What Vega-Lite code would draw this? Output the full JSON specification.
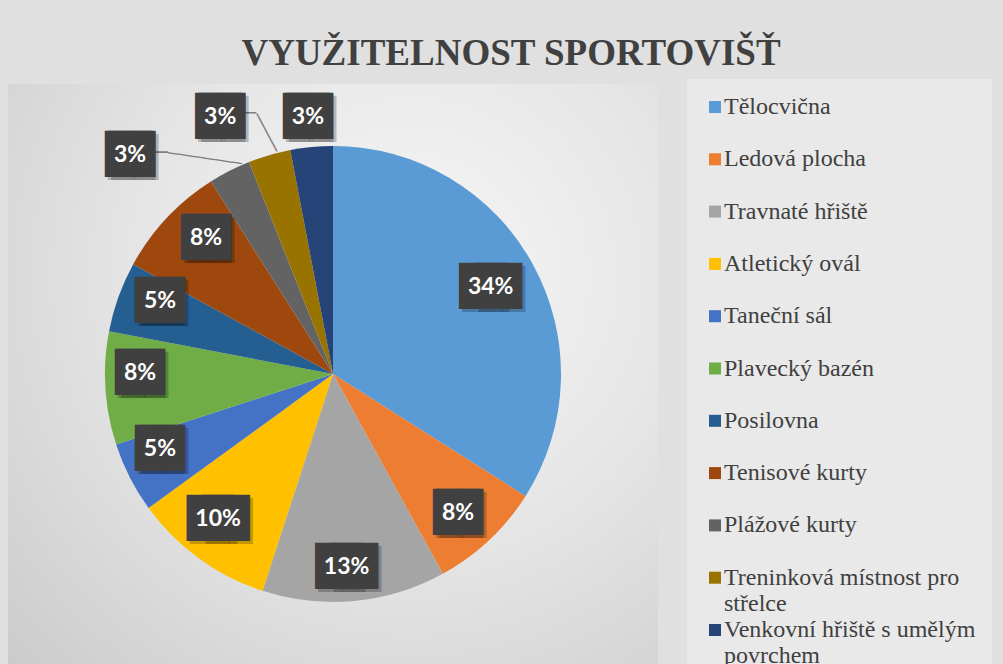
{
  "$schema": "https://vega.github.io/schema/vega-lite/v6.json",
  "autosize": {"type": "none"},
  "width": 650,
  "height": 580,
  "padding": {"left": 8, "top": 84, "right": 345, "bottom": 0},
  "background": "#e0e0e0",
  "config": {
    "view": {"stroke": null},
    "font": "Liberation Serif",
    "legend": {"labelFont": "Liberation Serif"}
  },
  "title": {
    "text": "VYUŽITELNOST SPORTOVIŠŤ",
    "font": "Liberation Serif",
    "fontSize": 37,
    "fontWeight": "bold",
    "color": "#404040",
    "anchor": "middle",
    "dx": 178,
    "offset": 6
  },
  "data": {
    "values": [
      {"kategorie": "Tělocvična", "podil": 0.34, "poradi": 1},
      {"kategorie": "Ledová plocha", "podil": 0.08, "poradi": 2},
      {"kategorie": "Travnaté hřiště", "podil": 0.13, "poradi": 3},
      {"kategorie": "Atletický ovál", "podil": 0.10, "poradi": 4},
      {"kategorie": "Taneční sál", "podil": 0.05, "poradi": 5},
      {"kategorie": "Plavecký bazén", "podil": 0.08, "poradi": 6},
      {"kategorie": "Posilovna", "podil": 0.05, "poradi": 7},
      {"kategorie": "Tenisové kurty", "podil": 0.08, "poradi": 8},
      {"kategorie": "Plážové kurty", "podil": 0.03, "poradi": 9},
      {"kategorie": "Treninková místnost pro střelce", "podil": 0.03, "poradi": 10},
      {"kategorie": "Venkovní hřiště s umělým povrchem", "podil": 0.03, "poradi": 11}
    ]
  },
  "layer": [
    {
      "data": {"values": [{}]},
      "mark": {
        "type": "rect",
        "color": {"gradient": "radial", "x1": 0.62, "y1": 0.35, "x2": 0.62, "y2": 0.35, "r1": 0, "r2": 0.95,
          "stops": [{"offset": 0, "color": "#f7f7f7"}, {"offset": 0.45, "color": "#e5e5e5"}, {"offset": 1, "color": "#c6c6c6"}]}
      },
      "encoding": {}
    },
    {
      "mark": {"type": "arc", "outerRadius": 228, "strokeWidth": 0},
      "encoding": {
        "theta": {"field": "podil", "type": "quantitative", "stack": true},
        "order": {"field": "poradi", "type": "quantitative"},
        "color": {
          "field": "kategorie",
          "type": "nominal",
          "scale": {
            "domain": ["Tělocvična", "Ledová plocha", "Travnaté hřiště", "Atletický ovál", "Taneční sál", "Plavecký bazén", "Posilovna", "Tenisové kurty", "Plážové kurty", "Treninková místnost pro střelce", "Venkovní hřiště s umělým povrchem"],
            "range": ["#5B9BD5", "#ED7D31", "#A5A5A5", "#FFC000", "#4472C4", "#70AD47", "#255E91", "#9E480E", "#636363", "#997300", "#264478"]
          },
          "legend": {
            "title": null,
            "orient": "none",
            "legendX": 679,
            "legendY": -5,
            "padding": 16,
            "fillColor": "#e9e9e9",
            "gridAlign": "all",
            "symbolType": "square",
            "symbolSize": 144,
            "symbolStrokeWidth": 0,
            "labelFont": "Liberation Serif",
            "labelFontSize": 24,
            "labelColor": "#404040",
            "labelOffset": -3,
            "labelLimit": 400,
            "labelBaseline": "middle",
            "rowPadding": 2.3,
            "labelExpr": "datum.label == 'Treninková místnost pro střelce' ? ['Treninková místnost pro', 'střelce'] : datum.label == 'Venkovní hřiště s umělým povrchem' ? ['Venkovní hřiště s umělým', 'povrchem'] : datum.label"
          }
        }
      }
    },
    {
      "mark": {
        "type": "text",
        "font": "DejaVu Sans Mono",
        "color": "#808080",
        "fontSize": {"expr": "datum.poradi == 9 ? 15.6 : 17.8"},
        "angle": {"expr": "datum.poradi == 9 ? 8.4 : 62.2"},
        "radius": {"expr": "datum.poradi == 9 ? 250.8 : 250.1"},
        "thetaOffset": {"expr": "datum.poradi == 9 ? -0.0656 : 0.0115"}
      },
      "encoding": {
        "theta": {"field": "podil", "type": "quantitative", "stack": true},
        "order": {"field": "poradi", "type": "quantitative"},
        "text": {"condition": [{"test": "datum.poradi == 9", "value": "────────"}, {"test": "datum.poradi == 10", "value": "────"}], "value": ""}
      }
    },
    {
      "mark": {
        "type": "text",
        "font": "DejaVu Sans Mono",
        "color": "#808080",
        "fontSize": {"expr": "datum.poradi == 9 ? 20 : 18.3"},
        "radius": {"expr": "datum.poradi == 9 ? 279.7 : 272.8"},
        "thetaOffset": {"expr": "datum.poradi == 9 ? -0.1887 : -0.0244"}
      },
      "encoding": {
        "theta": {"field": "podil", "type": "quantitative", "stack": true},
        "order": {"field": "poradi", "type": "quantitative"},
        "text": {"condition": {"test": "datum.poradi == 9 || datum.poradi == 10", "value": "─"}, "value": ""}
      }
    },
    {
      "mark": {
        "type": "text",
        "font": "DejaVu Sans Mono",
        "fontSize": 38.9,
        "color": "rgba(0,0,0,0.22)",
        "dy": 3,
        "dx": {"expr": "(datum.poradi == 1 || datum.poradi == 3 || datum.poradi == 4 ? -7.9 : -1.6) + 3"},
        "radius": {"expr": "[0, 179.9, 187, 193.5, 185, 188.6, 193, 187.8, 185.7, 298.6, 280.7, 258.2][datum.poradi]"},
        "thetaOffset": {"expr": "[0, 0, 0.022, 0.024, 0.042, 0.063, 0.068, 0.054, 0.064, -0.276, -0.131, -0.003][datum.poradi]"}
      },
      "encoding": {
        "theta": {"field": "podil", "type": "quantitative", "stack": true},
        "order": {"field": "poradi", "type": "quantitative"},
        "text": {"value": "██"}
      }
    },
    {
      "mark": {
        "type": "text",
        "font": "DejaVu Sans Mono",
        "fontSize": 38.9,
        "color": "rgba(0,0,0,0.22)",
        "dy": 3,
        "dx": {"expr": "(datum.poradi == 1 || datum.poradi == 3 || datum.poradi == 4 ? 7.9 : 1.6) + 3"},
        "radius": {"expr": "[0, 179.9, 187, 193.5, 185, 188.6, 193, 187.8, 185.7, 298.6, 280.7, 258.2][datum.poradi]"},
        "thetaOffset": {"expr": "[0, 0, 0.022, 0.024, 0.042, 0.063, 0.068, 0.054, 0.064, -0.276, -0.131, -0.003][datum.poradi]"}
      },
      "encoding": {
        "theta": {"field": "podil", "type": "quantitative", "stack": true},
        "order": {"field": "poradi", "type": "quantitative"},
        "text": {"value": "██"}
      }
    },
    {
      "mark": {
        "type": "text",
        "font": "DejaVu Sans Mono",
        "fontSize": 38.9,
        "color": "#404040",
        "dx": {"expr": "datum.poradi == 1 || datum.poradi == 3 || datum.poradi == 4 ? -7.9 : -1.6"},
        "radius": {"expr": "[0, 179.9, 187, 193.5, 185, 188.6, 193, 187.8, 185.7, 298.6, 280.7, 258.2][datum.poradi]"},
        "thetaOffset": {"expr": "[0, 0, 0.022, 0.024, 0.042, 0.063, 0.068, 0.054, 0.064, -0.276, -0.131, -0.003][datum.poradi]"}
      },
      "encoding": {
        "theta": {"field": "podil", "type": "quantitative", "stack": true},
        "order": {"field": "poradi", "type": "quantitative"},
        "text": {"value": "██"}
      }
    },
    {
      "mark": {
        "type": "text",
        "font": "DejaVu Sans Mono",
        "fontSize": 38.9,
        "color": "#404040",
        "dx": {"expr": "datum.poradi == 1 || datum.poradi == 3 || datum.poradi == 4 ? 7.9 : 1.6"},
        "radius": {"expr": "[0, 179.9, 187, 193.5, 185, 188.6, 193, 187.8, 185.7, 298.6, 280.7, 258.2][datum.poradi]"},
        "thetaOffset": {"expr": "[0, 0, 0.022, 0.024, 0.042, 0.063, 0.068, 0.054, 0.064, -0.276, -0.131, -0.003][datum.poradi]"}
      },
      "encoding": {
        "theta": {"field": "podil", "type": "quantitative", "stack": true},
        "order": {"field": "poradi", "type": "quantitative"},
        "text": {"value": "██"}
      }
    },
    {
      "mark": {
        "type": "text",
        "font": "Lato",
        "fontWeight": "bold",
        "fontSize": 23,
        "color": "#ffffff",
        "radius": {"expr": "[0, 179.9, 187, 193.5, 185, 188.6, 193, 187.8, 185.7, 298.6, 280.7, 258.2][datum.poradi]"},
        "thetaOffset": {"expr": "[0, 0, 0.022, 0.024, 0.042, 0.063, 0.068, 0.054, 0.064, -0.276, -0.131, -0.003][datum.poradi]"}
      },
      "encoding": {
        "theta": {"field": "podil", "type": "quantitative", "stack": true},
        "order": {"field": "poradi", "type": "quantitative"},
        "text": {"field": "podil", "type": "quantitative", "format": ".0%"}
      }
    }
  ]
}
